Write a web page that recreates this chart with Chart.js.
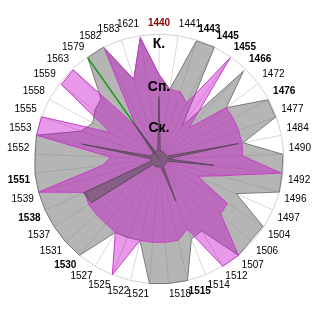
<!DOCTYPE html>
<html><head><meta charset="utf-8">
<script src="https://cdn.jsdelivr.net/npm/chart.js@4.4.0/dist/chart.umd.min.js"></script>
<style>html,body{margin:0;padding:0;background:#fff;}#wrap{width:320px;height:320px;}</style>
</head><body><div id="wrap"><canvas id="c" width="320" height="320"></canvas></div>
<script>
const categories = ['1440','1441','1443','1445','1455','1466','1472','1476','1477','1484','1490','1492','1496','1497','1504','1506','1507','1512','1514','1515','1518','1521','1522','1525','1527','1530','1531','1537','1538','1539','1551','1552','1553','1555','1558','1559','1563','1579','1582','1583','1621'];
const boldLabels = ['1440','1443','1445','1455','1466','1476','1515','1530','1538','1551'];
const highlightLabel = '1440';
const grayValues = [84,70,123,124,40,121,84,123,123,85,123,123,124,84,123,122,124,83,86,124,124,124,83,84,85,124,124,124,124,124,124,123,124,82,75,80,83,123,124,83,122];
const pinkValues = [84,70,70,62,123,43,84,84,84,84,83,122,63,42,81,82,124,124,75,83,83,83,83,124,85,83,83,83,81,124,57,48,124,124,55,122,123,40,122,83,122];
const darkValues = [62,8,8,8,8,8,8,8,8,80,8,55,8,8,8,8,8,8,45,8,8,8,8,8,8,8,8,80,82,8,8,8,78,8,8,8,8,45,8,8,8];
const greenValues = [0,0,0,0,0,0,0,0,0,0,0,0,0,0,0,0,0,0,0,0,0,0,0,0,0,0,0,0,0,0,0,0,0,0,0,0,0,123,0,0,0];
const tickValues = [0,31,71,114,124];
const tickLabels = ['','Ск.','Сп.','К.',''];
const scaleMax = 124;

const labelFamily = '"Liberation Sans Narrow", "Liberation Sans", Arial, sans-serif';
new Chart(document.getElementById('c'), {
  type: 'radar',
  data: {
    labels: categories,
    datasets: [
      {label:'d', data: darkValues, order:0, fill:true, backgroundColor:'rgba(80,80,80,0.5)', borderColor:'rgba(90,70,90,0.9)', borderWidth:1, pointRadius:0},
      {label:'p', data: pinkValues, order:1, fill:true, backgroundColor:'rgba(200,0,200,0.4)', borderColor:'#c83cc8', borderWidth:1, pointRadius:0},
      {label:'g', data: greenValues, order:2, fill:false, backgroundColor:'rgba(0,0,0,0)', borderColor:'#1f9a1f', borderWidth:1.5, pointRadius:0},
      {label:'s', data: grayValues, order:3, fill:true, backgroundColor:'rgba(128,128,128,0.58)', borderColor:'#7a7a7a', borderWidth:1, pointRadius:0}
    ]
  },
  options: {
    responsive:false, animation:false,
    layout:{padding:{left:8,right:8,top:7,bottom:9}},
    plugins:{legend:{display:false}, tooltip:{enabled:false}},
    elements:{line:{tension:0}},
    scales:{
      r:{
        min:0, max:scaleMax,
        afterBuildTicks: s => { s.ticks = tickValues.map(v => ({value:v})); },
        ticks:{
          z:1, showLabelBackdrop:false, color:'#000', backdropPadding:0,
          font:{family:'"Liberation Sans", Arial, sans-serif', size:14, weight:'bold'},
          callback:(v, i) => tickLabels[i] ?? ''
        },
        grid:{color: c => (c.tick && c.tick.value === scaleMax) ? '#d2d2d2' : 'rgba(0,0,0,0)'},
        angleLines:{color:'#d8d8d8'},
        pointLabels:{
          padding:-2,
          color: c => c.label === highlightLabel ? '#8b0000' : '#000',
          font: c => ({family: labelFamily, size: 10, weight: boldLabels.includes(c.label) ? 'bold' : 'normal'})
        }
      }
    }
  }
});
</script></body></html>
